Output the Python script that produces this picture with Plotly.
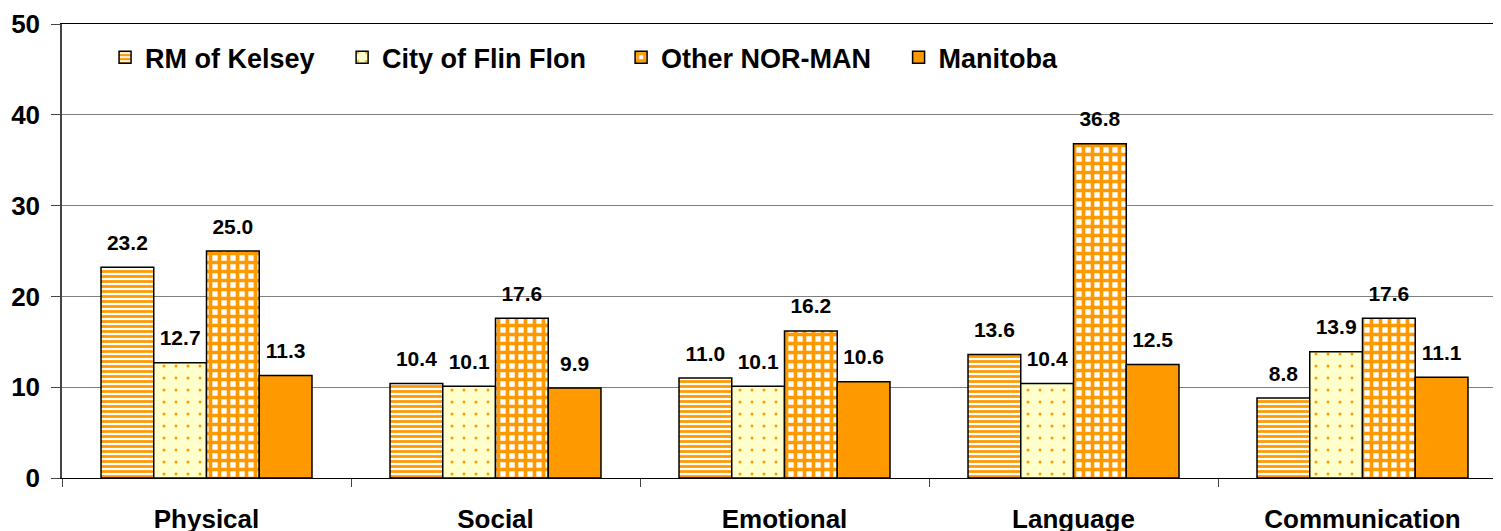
import plotly.graph_objects as go

categories = ["Physical", "Social", "Emotional", "Language", "Communication"]
series_names = ["RM of Kelsey", "City of Flin Flon", "Other NOR-MAN", "Manitoba"]
rm_kelsey = [23.2, 10.4, 11.0, 13.6, 8.8]
flin_flon = [12.7, 10.1, 10.1, 10.4, 13.9]
other_norman = [25.0, 17.6, 16.2, 36.8, 17.6]
manitoba = [11.3, 9.9, 10.6, 12.5, 11.1]
y_ticks = [0, 10, 20, 30, 40, 50]

ORANGE = "#FF9900"
FONT = "Liberation Sans, Arial, sans-serif"
NB = "\u00a0"

patterns = [
    dict(shape="-", fgcolor=ORANGE, bgcolor="white", size=5, solidity=0.55, fillmode="replace"),
    dict(shape=".", fgcolor=ORANGE, bgcolor="#FFFFCC", size=12, solidity=0.05, fillmode="replace"),
    dict(shape="+", fgcolor=ORANGE, bgcolor="white", size=9, solidity=0.65, fillmode="replace"),
    None,
]
colors = [ORANGE, "#FFFFCC", ORANGE, ORANGE]
legend_names = [series_names[0] + NB * 3, series_names[1] + NB * 4,
                series_names[2] + NB * 3, series_names[3]]
all_values = [rm_kelsey, flin_flon, other_norman, manitoba]

fig = go.Figure()
for name, lname, vals, col, pat in zip(series_names, legend_names, all_values, colors, patterns):
    marker = dict(color=col, line=dict(color="black", width=1.5))
    if pat is not None:
        marker["pattern"] = pat
    fig.add_trace(go.Bar(
        name=lname, x=categories, y=vals, marker=marker,
        hovertemplate=name + ": %{y:.1f}<extra></extra>",
    ))
for name, vals in zip(series_names, all_values):
    fig.add_trace(go.Scatter(
        x=categories, y=vals, mode="markers+text",
        marker=dict(size=18, opacity=0, color="white"),
        text=[f"{v:.1f}" for v in vals], textposition="top center",
        textfont=dict(family=FONT, size=21, color="black", weight="bold"),
        showlegend=False, hoverinfo="skip", cliponaxis=False,
    ))

fig.update_layout(
    width=1501, height=531,
    margin=dict(l=54, r=2, t=16, b=61),
    paper_bgcolor="white", plot_bgcolor="white",
    barmode="group", bargap=0.27, bargroupgap=0,
    scattermode="group", scattergap=0.27,
    font=dict(family=FONT, color="black"),
    legend=dict(
        orientation="h", x=0.0298, y=0.980, xanchor="left", yanchor="top",
        font=dict(family=FONT, size=27, weight="bold"),
        bgcolor="rgba(0,0,0,0)",
    ),
)
fig.update_xaxes(
    range=[-0.5, 4.5], tickson="boundaries", ticks="outside", ticklen=8,
    tickcolor="#444", showline=True, linecolor="black", linewidth=1, mirror=True,
    tickfont=dict(family=FONT, size=26, weight="bold"), ticklabelstandoff=18,
    showgrid=False, automargin=False,
)
fig.update_yaxes(
    range=[0, 50], tickvals=y_ticks, ticks="outside", ticklen=9, tickcolor="#444",
    showline=True, linecolor="#444", linewidth=1.5,
    showgrid=True, gridcolor="#808080", gridwidth=1, zeroline=False,
    tickfont=dict(family=FONT, size=26, weight="bold"), ticklabelstandoff=6,
    automargin=False,
)

fig.write_html("out.html")
